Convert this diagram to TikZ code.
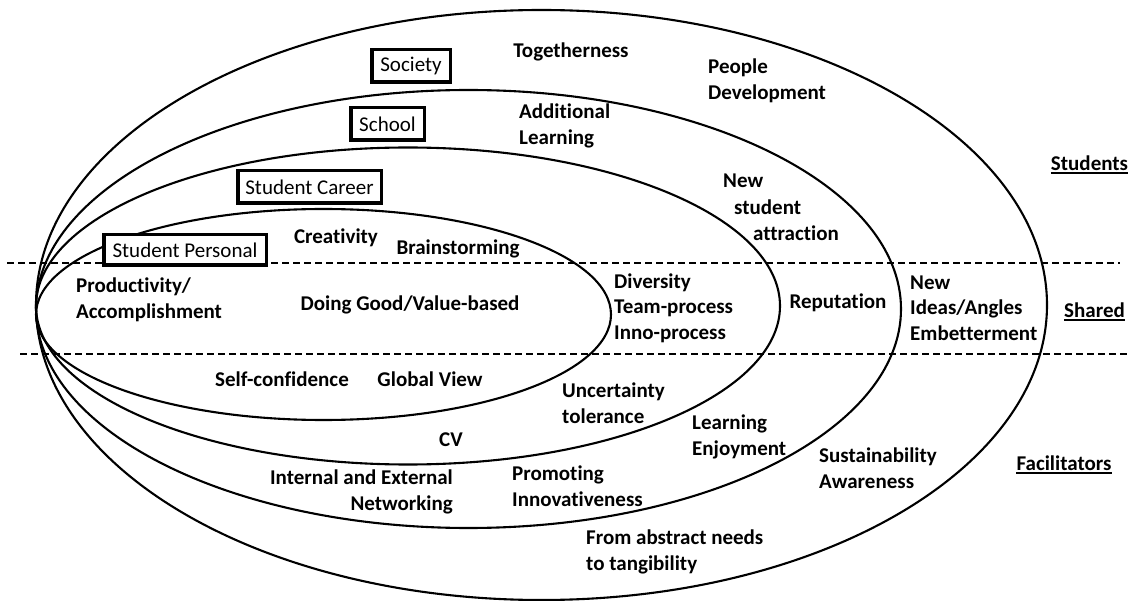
\documentclass[tikz,border=0pt]{standalone}
\usepackage{fontspec}
\setmainfont{Carlito}[Ligatures={NoCommon}]
\begin{document}
\begin{tikzpicture}[x=1pt,y=-1pt,
  ring/.style={line width=2.1pt},
  divider/.style={line width=1.6pt, dash pattern=on 7pt off 4pt},
  lab/.style={font=\bfseries\fontsize{21}{25.5}\selectfont, inner sep=0pt, align=left},
  boxlab/.style={draw, fill=white, line width=3.5pt, font=\fontsize{21}{25}\selectfont, inner sep=0pt, minimum height=32.5pt},
  uline/.style={line width=1.8pt}]
\useasboundingbox (0,0) rectangle (1130,601);
% nested ellipses
\draw[ring] (541.5,305) ellipse [x radius=505.5pt, y radius=295pt];
\draw[ring] (468.5,309) ellipse [x radius=432.5pt, y radius=219pt];
\draw[ring] (408,306) ellipse [x radius=372pt, y radius=158.5pt];
\draw[ring] (323.5,314.5) ellipse [x radius=287.5pt, y radius=105.5pt];
% dividers
\coordinate (d1a) at (7,263);
\coordinate (d1b) at (1120,263);
\coordinate (d2a) at (20,354);
\coordinate (d2b) at (1130,354);
\draw[divider] (d1a) -- (d1b);
\draw[divider] (d2a) -- (d2b);
% boxed level labels
\node[boxlab, minimum width=78.5pt] (society) at (411,66) {Society};
\node[boxlab, minimum width=73.5pt] (school) at (387.5,124) {School};
\node[boxlab, minimum width=143.5pt] (career) at (309.5,187) {Student Career};
\node[boxlab, minimum width=162.5pt, minimum height=30.5pt] (personal) at (185,250) {Student Personal};
% texts
\node[lab] (tog) at (571,52) {Togetherness};
\node[lab, anchor=west] (ppl) at (708,81) {People\\Development};
\node[lab, anchor=west] (addl) at (519,126) {Additional\\Learning};
\node[lab, anchor=west] (new1) at (723,181) {New};
\node[lab, anchor=west] (new2) at (734,207) {student};
\node[lab, anchor=west] (new3) at (753,233) {attraction};
\node[lab] (crea) at (336,238) {Creativity};
\node[lab] (brain) at (458,249) {Brainstorming};
\node[lab, anchor=west] (prod) at (76,300) {Productivity/\\Accomplishment};
\node[lab] (doing) at (410,305) {Doing Good/Value-based};
\node[lab, anchor=west] (div) at (614,308) {Diversity\\Team-process\\Inno-process};
\node[lab] (rep) at (838,303) {Reputation};
\node[lab, anchor=west] (ideas) at (910,308) {New\\Ideas/Angles\\Embetterment};
\node[lab] (stud) at (1089.5,163) {Students};
\node[lab] (shared) at (1094.5,310) {Shared};
\node[lab] (fac) at (1064,463) {Facilitators};
\node[lab] (self) at (282,379) {Self-confidence};
\node[lab] (glob) at (430,379) {Global View};
\node[lab, anchor=west] (unc) at (562,403) {Uncertainty\\tolerance};
\node[lab] (cv) at (451,440) {CV};
\node[lab, anchor=west] (learn) at (692,437) {Learning\\Enjoyment};
\node[lab, anchor=west] (sust) at (819,468) {Sustainability\\Awareness};
\node[lab, anchor=east, align=right] (net) at (453,492) {Internal and External\\Networking};
\node[lab, anchor=west] (prom) at (512,486) {Promoting\\Innovativeness};
\node[lab, anchor=west] (from) at (586,552) {From abstract needs\\to tangibility};
% underlines
\draw[uline] ([yshift=-3pt]stud.base west) -- ([yshift=-3pt]stud.base east);
\draw[uline] ([yshift=-3pt]shared.base west) -- ([yshift=-3pt]shared.base east);
\draw[uline] ([yshift=-3pt]fac.base west) -- ([yshift=-3pt]fac.base east);
\end{tikzpicture}
\end{document}
